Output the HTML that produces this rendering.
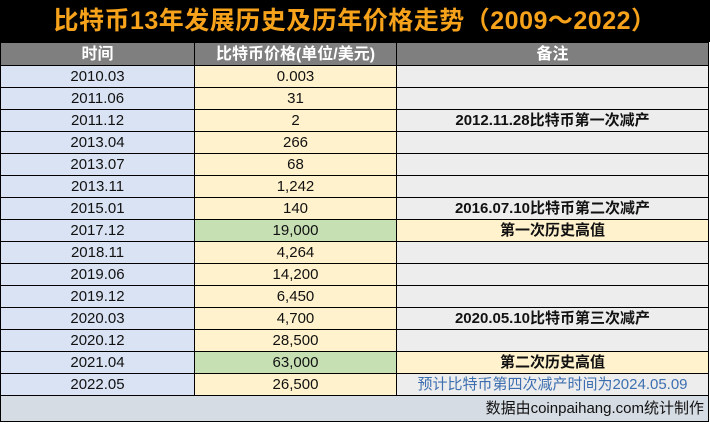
<!DOCTYPE html>
<html><head><meta charset="utf-8"><style>
body{margin:0;width:710px;height:425px;background:#fff;overflow:hidden;font-family:"Liberation Sans","Noto Sans CJK SC",sans-serif}
#t{position:absolute;left:0;top:0;width:710px;height:42px;background:#000;color:#f7a21b;font-weight:bold;font-size:25px;line-height:42px;text-align:center;letter-spacing:0.5px}
table{position:absolute;left:0;top:42px;border-collapse:collapse;table-layout:fixed;width:708px}
td{border:1px solid #000;height:21px;padding:0;text-align:center;font-size:15px;color:#111;line-height:21px;white-space:nowrap;overflow:hidden}
tr.h td{background:#7f7f7f;color:#fff;font-weight:bold;font-size:16px;height:22px}
td.a{background:#dae3f3}
td.b{background:#fff2cc}
td.g{background:#c6e0b4}
td.c{background:#ededed}
td.n{background:#fff2cc;font-weight:bold}
td.bd{font-weight:bold}
td.bl{color:#3d6fb0}
tr.f td{background:#d6dce4;height:25px;text-align:right;padding-right:4px;font-size:15px}
</style></head><body>
<div id="t">比特币13年发展历史及历年价格走势（2009～2022）</div>
<table>
<colgroup><col style="width:194px"><col style="width:202px"><col style="width:312px"></colgroup>
<tr class="h"><td>时间</td><td>比特币价格(单位/美元)</td><td>备注</td></tr>
<tr><td class="a">2010.03</td><td class="b">0.003</td><td class="c"></td></tr>
<tr><td class="a">2011.06</td><td class="b">31</td><td class="c"></td></tr>
<tr><td class="a">2011.12</td><td class="b">2</td><td class="c bd">2012.11.28比特币第一次减产</td></tr>
<tr><td class="a">2013.04</td><td class="b">266</td><td class="c"></td></tr>
<tr><td class="a">2013.07</td><td class="b">68</td><td class="c"></td></tr>
<tr><td class="a">2013.11</td><td class="b">1,242</td><td class="c"></td></tr>
<tr><td class="a">2015.01</td><td class="b">140</td><td class="c bd">2016.07.10比特币第二次减产</td></tr>
<tr><td class="a">2017.12</td><td class="g">19,000</td><td class="n">第一次历史高值</td></tr>
<tr><td class="a">2018.11</td><td class="b">4,264</td><td class="c"></td></tr>
<tr><td class="a">2019.06</td><td class="b">14,200</td><td class="c"></td></tr>
<tr><td class="a">2019.12</td><td class="b">6,450</td><td class="c"></td></tr>
<tr><td class="a">2020.03</td><td class="b">4,700</td><td class="c bd">2020.05.10比特币第三次减产</td></tr>
<tr><td class="a">2020.12</td><td class="b">28,500</td><td class="c"></td></tr>
<tr><td class="a">2021.04</td><td class="g">63,000</td><td class="n">第二次历史高值</td></tr>
<tr><td class="a">2022.05</td><td class="b">26,500</td><td class="c bl">预计比特币第四次减产时间为2024.05.09</td></tr>
<tr class="f"><td colspan="3">数据由coinpaihang.com统计制作</td></tr>
</table>
</body></html>
